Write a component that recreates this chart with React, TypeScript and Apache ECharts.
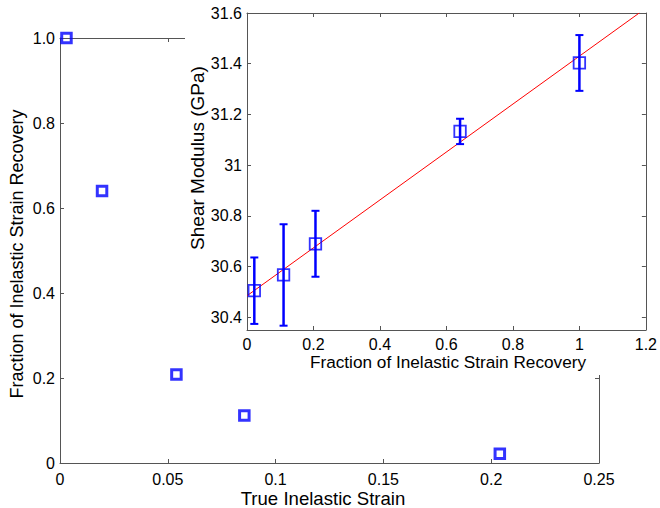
import React, { useEffect, useRef } from "react";
import * as echarts from "echarts";

// Main plot: fraction of inelastic strain recovery vs true inelastic strain
const strainX = [0.003, 0.0195, 0.054, 0.0855, 0.204];
const recoveryY = [1.0, 0.64, 0.208, 0.112, 0.022];
const mainXTicks = [0, 0.05, 0.1, 0.15, 0.2, 0.25];
const mainYTicks = [0, 0.2, 0.4, 0.6, 0.8, 1.0];

// Inset: shear modulus vs fraction of recovery
const recoveryX = [0.022, 0.11, 0.206, 0.641, 1.0];
const modulusY = [30.505, 30.567, 30.69, 31.133, 31.403];
const modulusErr = [0.131, 0.2, 0.13, 0.05, 0.11];
const fitX = [0, 1.18];
const fitY = [30.485, 31.6];
const insetXTicks = [0, 0.2, 0.4, 0.6, 0.8, 1, 1.2];
const insetYTicks = [30.4, 30.6, 30.8, 31, 31.2, 31.4, 31.6];

const FONT = "'Liberation Sans', Arial, Helvetica, sans-serif";
const AXIS = "#555";
const BLUE = "#0000ff";

export default function App() {
  const ref = useRef<HTMLDivElement>(null);
  useEffect(() => {
    if (!ref.current) return;
    const chart = echarts.init(ref.current, null, { renderer: "svg" });
    const fmt = (v: number) => String(+v.toFixed(2));
    const axisBase = (z: number) => ({
      type: "value" as const,
      z,
      splitLine: { show: false },
      axisLine: { show: true, onZero: false, lineStyle: { color: AXIS, width: 1 } },
      axisTick: { show: true, inside: true, length: 4, lineStyle: { color: AXIS } },
    });
    const label = { color: "#000", fontSize: 16, fontFamily: FONT };
    const errData = recoveryX.map((x, i) => [x, modulusY[i] - modulusErr[i], modulusY[i] + modulusErr[i]]);
    const insetTick = { show: true, inside: true, length: 4, lineStyle: { color: AXIS }, customValues: insetYTicks };

    chart.setOption({
      animation: false,
      grid: [
        { left: 60, top: 38, right: 61, bottom: 45, show: false, z: 1 },
        { left: 247, top: 13, right: 11, bottom: 178, show: false, z: 10 },
      ],
      xAxis: [
        {
          ...axisBase(1), gridIndex: 0, position: "bottom",
          min: mainXTicks[0], max: mainXTicks[mainXTicks.length - 1], interval: 0.05,
          axisLabel: { ...label, margin: 8, formatter: fmt },
        },
        {
          ...axisBase(1), gridIndex: 0, position: "top",
          min: mainXTicks[0], max: mainXTicks[mainXTicks.length - 1], interval: 0.05,
          axisLabel: { show: false },
        },
        {
          ...axisBase(10), gridIndex: 1, position: "bottom",
          min: insetXTicks[0], max: insetXTicks[insetXTicks.length - 1], interval: 0.2,
          axisLabel: { ...label, margin: 6, formatter: fmt },
        },
        {
          ...axisBase(10), gridIndex: 1, position: "top",
          min: insetXTicks[0], max: insetXTicks[insetXTicks.length - 1], interval: 0.2,
          axisLabel: { show: false },
        },
      ],
      yAxis: [
        {
          ...axisBase(1), gridIndex: 0, position: "left",
          min: mainYTicks[0], max: mainYTicks[mainYTicks.length - 1], interval: 0.2,
          axisLabel: { ...label, margin: 5, formatter: (v: number) => (v === 0 ? "0" : v.toFixed(1)) },
        },
        {
          ...axisBase(1), gridIndex: 0, position: "right",
          min: mainYTicks[0], max: mainYTicks[mainYTicks.length - 1], interval: 0.2,
          axisLabel: { show: false },
        },
        {
          ...axisBase(10), gridIndex: 1, position: "left",
          min: 30.35, max: insetYTicks[insetYTicks.length - 1],
          axisTick: insetTick,
          axisLabel: { ...label, margin: 5, customValues: insetYTicks, formatter: fmt },
        },
        {
          ...axisBase(10), gridIndex: 1, position: "right",
          min: 30.35, max: insetYTicks[insetYTicks.length - 1],
          axisTick: insetTick,
          axisLabel: { show: false, customValues: insetYTicks },
        },
      ],
      graphic: [
        { type: "rect", z: 4, shape: { x: 185, y: 0, width: 480, height: 375 }, style: { fill: "#fff" } },
        {
          type: "text", z: 20, x: 323, y: 498,
          style: { text: "True Inelastic Strain", font: `18.6px ${FONT}`, fill: "#000", textAlign: "center", textVerticalAlign: "middle" },
        },
        {
          type: "text", z: 20, x: 17, y: 254, rotation: Math.PI / 2,
          style: { text: "Fraction of Inelastic Strain Recovery", font: `18px ${FONT}`, fill: "#000", textAlign: "center", textVerticalAlign: "middle" },
        },
        {
          type: "text", z: 20, x: 448, y: 362,
          style: { text: "Fraction of Inelastic Strain Recovery", font: `17.2px ${FONT}`, fill: "#000", textAlign: "center", textVerticalAlign: "middle" },
        },
        {
          type: "text", z: 20, x: 197, y: 158, rotation: Math.PI / 2,
          style: { text: "Shear Modulus (GPa)", font: `19px ${FONT}`, fill: "#000", textAlign: "center", textVerticalAlign: "middle" },
        },
      ],
      series: [
        {
          type: "scatter", xAxisIndex: 0, yAxisIndex: 0, z: 2, clip: false,
          symbol: "rect", symbolSize: 9.5,
          itemStyle: { color: "rgba(0,0,0,0)", borderColor: BLUE, borderWidth: 3 },
          data: strainX.map((x, i) => [x, recoveryY[i]]),
        },
        {
          type: "line", xAxisIndex: 2, yAxisIndex: 2, z: 11, clip: true,
          showSymbol: false, lineStyle: { color: "#ff0000", width: 1 },
          data: fitX.map((x, i) => [x, fitY[i]]),
        },
        {
          type: "custom", xAxisIndex: 2, yAxisIndex: 2, z: 12,
          data: errData,
          renderItem: (params: any, api: any) => {
            const x = api.value(0);
            const lo = api.coord([x, api.value(1)]);
            const hi = api.coord([x, api.value(2)]);
            const hw = 4;
            const st = { stroke: BLUE, lineWidth: 2.5 };
            return {
              type: "group",
              children: [
                { type: "line", shape: { x1: lo[0], y1: lo[1], x2: hi[0], y2: hi[1] }, style: st },
                { type: "line", shape: { x1: lo[0] - hw, y1: lo[1], x2: lo[0] + hw, y2: lo[1] }, style: { ...st, lineWidth: 2 } },
                { type: "line", shape: { x1: hi[0] - hw, y1: hi[1], x2: hi[0] + hw, y2: hi[1] }, style: { ...st, lineWidth: 2 } },
              ],
            };
          },
        },
        {
          type: "scatter", xAxisIndex: 2, yAxisIndex: 2, z: 13, clip: false,
          symbol: "rect", symbolSize: 11.5,
          itemStyle: { color: "rgba(0,0,0,0)", borderColor: BLUE, borderWidth: 1.8 },
          data: recoveryX.map((x, i) => [x, modulusY[i]]),
        },
      ],
    });
    return () => chart.dispose();
  }, []);
  return <div ref={ref} style={{ position: "fixed", left: 0, top: 0, width: 660, height: 508, background: "#fff" }} />;
}
